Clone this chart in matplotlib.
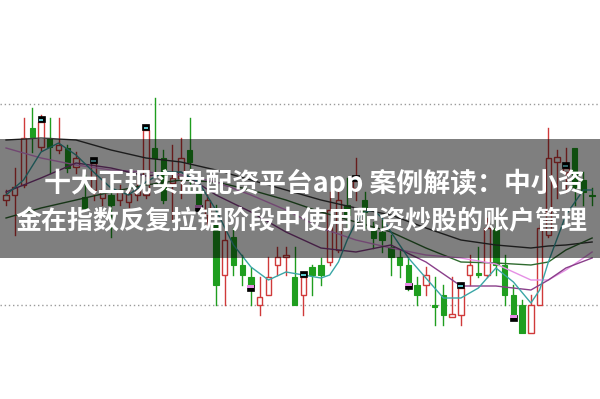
import matplotlib
matplotlib.use("Agg")
import matplotlib.pyplot as plt
from matplotlib.patches import Rectangle

# candle data (price units), one entry per bar
opens = [200, 205, 215, 272, 253, 262, 250, 252, 233, 203, 210, 202, 205, 200, 198, 205, 205, 252, 242, 217,
         222, 250, 208, 185, 175, 125, 163, 135, 123, 95, 105, 135, 143, 123, 105, 133, 135, 138, 150, 195,
         212, 200, 170, 168, 153, 143, 135, 115, 115, 95, 105, 83, 85, 125, 127, 125, 172, 135, 105, 95,
         67, 95, 165, 238, 228, 252, 220, 205]
closes = [205, 213, 262, 263, 278, 253, 255, 232, 242, 192, 237, 210, 195, 208, 206, 212, 270, 242, 200, 222,
          242, 238, 195, 200, 115, 160, 135, 125, 115, 103, 123, 143, 145, 95, 123, 125, 125, 190, 200, 185,
          219, 188, 162, 160, 143, 135, 117, 105, 125, 93, 85, 86, 112, 135, 125, 172, 135, 105, 85, 67,
          95, 172, 242, 243, 232, 213, 208, 204]
highs = [210, 232, 282, 292, 285, 282, 282, 255, 248, 225, 240, 222, 215, 215, 212, 220, 275, 302, 250, 255,
         262, 282, 212, 210, 195, 172, 172, 145, 132, 123, 143, 153, 153, 153, 128, 135, 142, 208, 210, 222,
         242, 208, 178, 180, 165, 150, 142, 123, 133, 123, 115, 123, 117, 145, 153, 182, 182, 145, 115, 100,
         105, 175, 272, 250, 252, 252, 228, 212]
lows = [195, 165, 213, 248, 250, 227, 247, 228, 227, 190, 200, 195, 163, 195, 193, 200, 202, 225, 197, 180,
        202, 210, 190, 172, 95, 95, 125, 115, 95, 85, 105, 125, 125, 95, 85, 105, 115, 135, 148, 172,
        200, 172, 152, 148, 125, 123, 110, 95, 105, 75, 75, 83, 75, 115, 123, 123, 125, 95, 82, 67,
        67, 95, 163, 202, 208, 195, 195, 195]

# bars carrying the small square signal marks
marks_top = [4, 10, 16, 34, 40, 52, 64]
marks_bottom = [22, 28, 46, 58]

# moving-average lines
cyan_idx = [0, 2, 4, 6, 8, 10, 12, 14, 16, 18, 20, 22, 24, 26, 28, 30, 32, 34, 36, 37,
            38, 39, 40, 41, 42, 43, 44, 46, 48, 50, 52, 54, 56, 58, 60, 61, 62, 64, 66, 67]
cyan_val = [205, 220, 248, 257, 245, 228, 212, 205, 218, 228, 228, 218, 190, 155, 133, 120, 128, 125, 122, 125,
            138, 160, 178, 188, 190, 182, 168, 142, 122, 102, 102, 112, 132, 118, 97, 110, 138, 185, 210, 210]
ma_idx = [0, 4, 8, 12, 16, 20, 24, 28, 32, 36, 40, 44, 48, 52, 56, 60, 62, 64, 67]
purple_val = [208, 222, 237, 232, 224, 228, 205, 188, 168, 152, 148, 155, 138, 114, 114, 110, 120, 132, 142]
pink_val = [252, 242, 235, 230, 228, 225, 218, 205, 190, 172, 160, 152, 145, 142, 136, 120, 120, 130, 148]
dgreen_val = [182, 192, 200, 208, 215, 220, 218, 210, 200, 188, 178, 168, 152, 138, 137, 135, 138, 150, 162]
gray_val = [260, 262, 260, 250, 242, 238, 230, 220, 210, 200, 192, 185, 172, 160, 155, 152, 154, 155, 158]

grid_levels = [296, 95]

title1 = "十大正规实盘配资平台app 案例解读：中小资"
title2 = "金在指数反复拉锯阶段中使用配资炒股的账户管理"

RED = "#d03a3a"
GREEN = "#1f9e1f"

fig = plt.figure(figsize=(6, 3.99), dpi=100)
ax = fig.add_axes([0, 0, 1, 1])
ax.set_xlim(-0.69, 67.9)
ax.set_ylim(1, 400)
ax.axis("off")

for lv in grid_levels:
    ax.axhline(lv, color="#9a9a9a", lw=1, ls=(0, (1, 2)), zorder=1)

w = 0.62
for i in range(len(opens)):
    o, c, h, l = opens[i], closes[i], highs[i], lows[i]
    up = c >= o
    col = RED if up else GREEN
    lo, hi = min(o, c), max(o, c)
    ax.plot([i, i], [hi, h], color=col, lw=1, zorder=2)
    ax.plot([i, i], [l, lo], color=col, lw=1, zorder=2)
    if up:
        ax.add_patch(Rectangle((i - w / 2, lo), w, max(hi - lo, 1), facecolor="white",
                               edgecolor=col, lw=1, zorder=3))
    else:
        ax.add_patch(Rectangle((i - w / 2, lo), w, max(hi - lo, 1), facecolor=col,
                               edgecolor=col, lw=0.8, zorder=3))

mw = 0.8
for i in marks_top:
    top = max(opens[i], closes[i])
    ax.add_patch(Rectangle((i - mw / 2, top), mw, 6, facecolor="black", edgecolor="black", lw=0.5, zorder=6))
    ax.add_patch(Rectangle((i - mw / 2 + 0.12, top + 0.8), mw - 0.24, 2.5, facecolor="#5fc8d0", lw=0, zorder=7))
for i in marks_bottom:
    bot = min(opens[i], closes[i])
    ax.add_patch(Rectangle((i - mw / 2, bot - 6), mw, 6, facecolor="black", edgecolor="black", lw=0.5, zorder=6))
    ax.add_patch(Rectangle((i - mw / 2, bot - 3), mw, 3, facecolor="#e88ae8", lw=0, zorder=7))

ax.plot(ma_idx, gray_val, color="#3a3a3a", lw=1, zorder=4)
ax.plot(ma_idx, dgreen_val, color="#2f6b2f", lw=1, zorder=4)
ax.plot(ma_idx, pink_val, color="#e590e5", lw=1, zorder=4)
ax.plot(ma_idx, purple_val, color="#8a3f8a", lw=1, zorder=4)
ax.plot(cyan_idx, cyan_val, color="#3aa6a6", lw=1, zorder=5)

# translucent banner with the headline
fig.patches.append(Rectangle((0, 1 - 258 / 399), 1, 119 / 399, transform=fig.transFigure,
                             facecolor="black", alpha=0.5, lw=0, zorder=10))
fig.text(0.523, 0.541, title1, color="white", fontsize=19.4, fontweight="bold",
         family=["Noto Sans CJK SC", "DejaVu Sans"], ha="center", va="center", zorder=11)
fig.text(0.502, 0.444, title2, color="white", fontsize=18.7, fontweight="bold",
         family=["Noto Sans CJK SC", "DejaVu Sans"], ha="center", va="center", zorder=11)

fig.savefig("out.png", dpi=100)
